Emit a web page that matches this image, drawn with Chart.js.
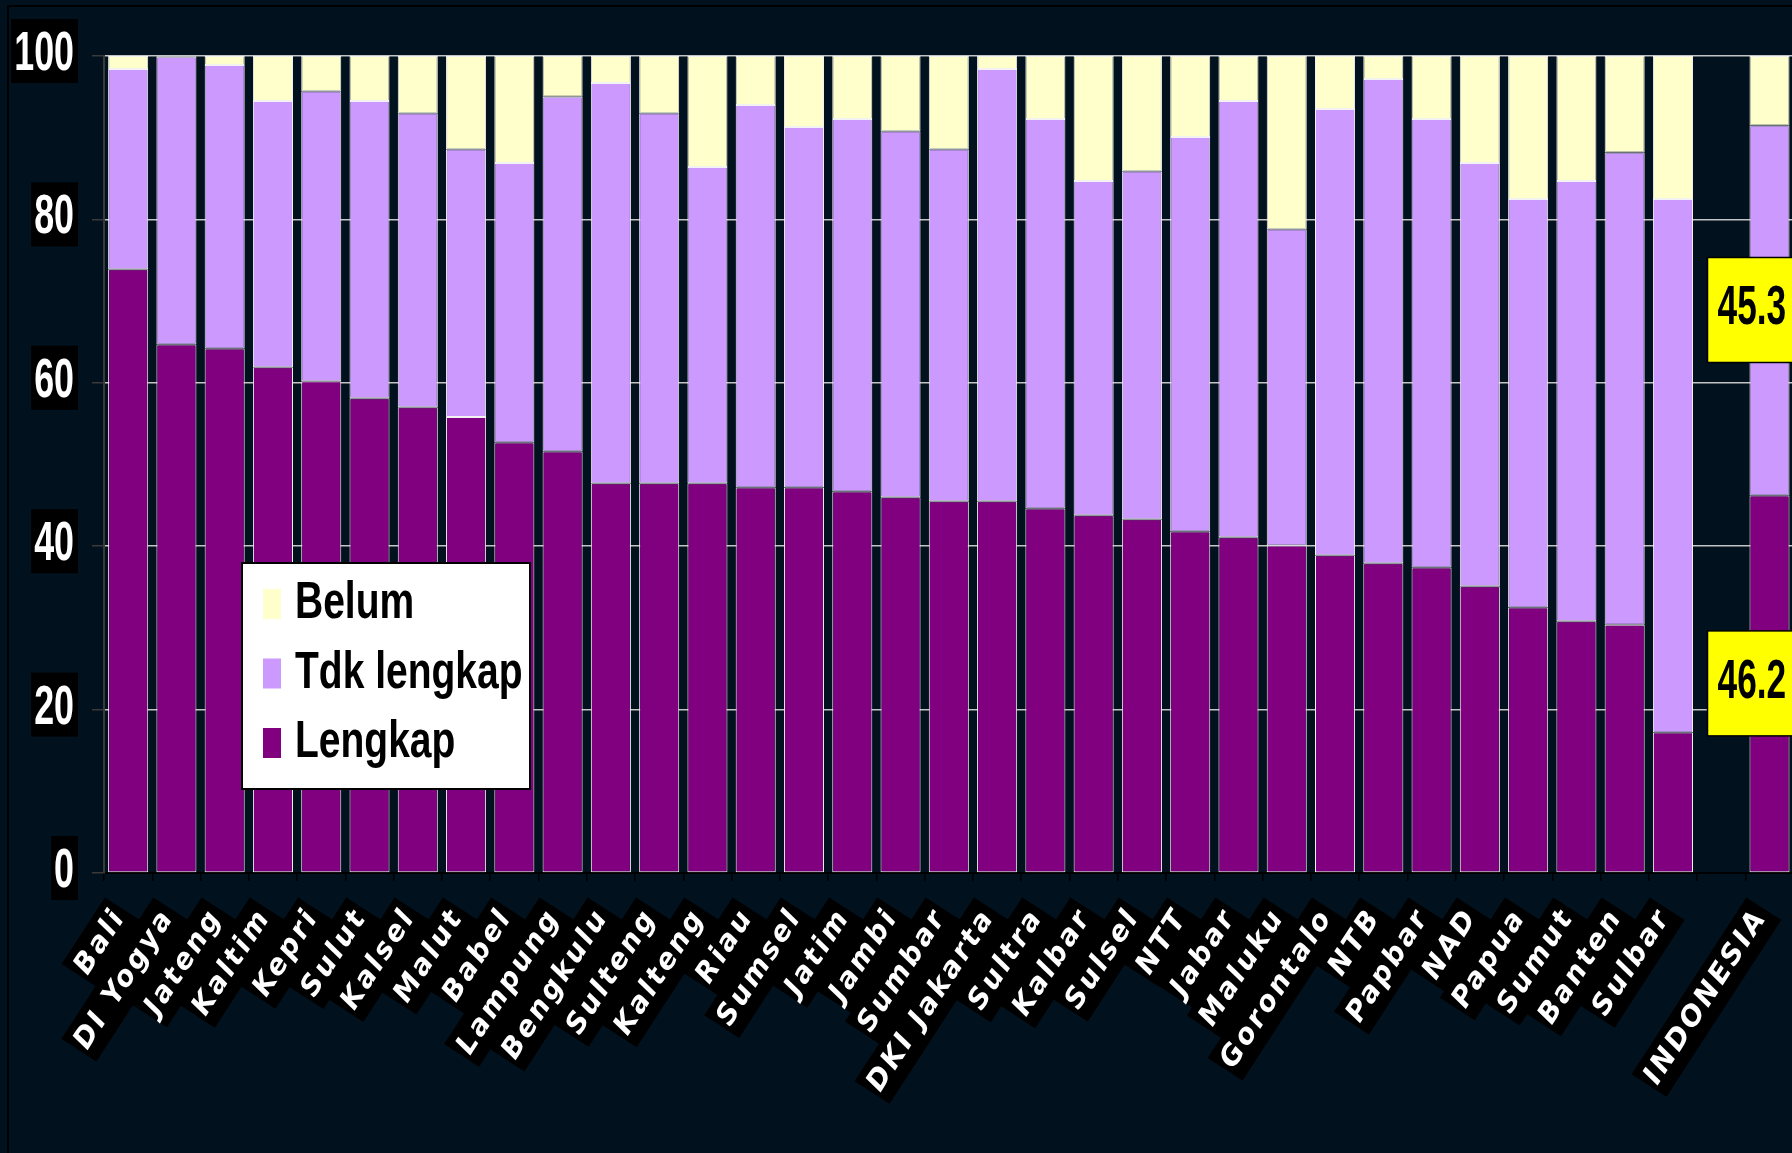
<!DOCTYPE html>
<html>
<head>
<meta charset="utf-8">
<title>Kelengkapan per provinsi</title>
<script src="https://cdn.jsdelivr.net/npm/chart.js@4.4.1/dist/chart.umd.min.js"></script>
<style>
  html, body { margin: 0; padding: 0; background: #01111d; overflow: hidden; }
  #wrap { width: 1820px; height: 1153px; }
</style>
</head>
<body>
<div id="wrap"><canvas id="chart" width="1820" height="1153"></canvas></div>
<script>
// ===== DATA =====
const provinces = [
    'Bali', 'DI Yogya', 'Jateng', 'Kaltim', 'Kepri', 'Sulut', 'Kalsel', 'Malut', 'Babel',
    'Lampung', 'Bengkulu', 'Sulteng', 'Kalteng', 'Riau', 'Sumsel', 'Jatim', 'Jambi',
    'Sumbar', 'DKI Jakarta', 'Sultra', 'Kalbar', 'Sulsel', 'NTT', 'Jabar', 'Maluku',
    'Gorontalo', 'NTB', 'Papbar', 'NAD', 'Papua', 'Sumut', 'Banten', 'Sulbar', '', 'INDONESIA'
];
const lengkap = [
    73.9, 64.7, 64.2, 61.9, 60.2, 58.1, 57.0, 55.8, 52.7,
    51.6, 47.7, 47.7, 47.7, 47.2, 47.2, 46.7, 46.0,
    45.5, 45.5, 44.6, 43.8, 43.3, 41.8, 41.1, 40.1,
    38.9, 37.9, 37.4, 35.1, 32.5, 30.8, 30.4, 17.2, null, 46.2
];
const tdkLengkap = [
    24.5, 35.2, 34.7, 32.6, 35.5, 36.4, 36.0, 32.8, 34.2,
    43.4, 49.0, 45.3, 38.7, 46.8, 44.1, 45.6, 44.8,
    43.1, 52.9, 47.7, 40.9, 42.6, 48.3, 53.4, 38.7,
    54.6, 59.3, 54.9, 51.8, 50.0, 53.9, 57.8, 65.3, null, 45.3
];
const belum = [
    1.6, 0.1, 1.1, 5.5, 4.3, 5.5, 7.0, 11.4, 13.1,
    5.0, 3.3, 7.0, 13.6, 6.0, 8.7, 7.7, 9.2,
    11.4, 1.6, 7.7, 15.3, 14.1, 9.9, 5.5, 21.2,
    6.5, 2.8, 7.7, 13.1, 17.5, 15.3, 11.8, 17.5, null, 8.5
];
const yMin = 0;
const yMax = 100;
const yStep = 20;

// only the national bar gets value boxes, and only these two series
const labelledCategories = ['INDONESIA'];
const labelledSeries = ['Lengkap', 'Tdk lengkap'];

const BG = '#01111d';
const SANS = '"Liberation Sans", Arial, sans-serif';

// draw text squeezed horizontally (narrow face look)
function narrowText(ctx, text, x, y, squeeze, align) {
    ctx.save();
    ctx.translate(x, y);
    ctx.scale(squeeze, 1);
    ctx.textAlign = align;
    ctx.fillText(text, 0, 0);
    ctx.restore();
}

// ===== PLUGINS =====
const background = {
    id: 'background',
    beforeLayout(chart) {
        // wide tracking for the slanted category labels
        chart.ctx.letterSpacing = '3px';
    },
    beforeDraw(chart) {
        const ctx = chart.ctx;
        ctx.letterSpacing = '3px';
        ctx.save();
        ctx.fillStyle = BG;
        ctx.fillRect(0, 0, chart.width, chart.height);
        ctx.strokeStyle = '#000';
        ctx.lineWidth = 2;
        ctx.strokeRect(8, 6, chart.width, chart.height);
        ctx.restore();
    }
};

// y tick labels on black tabs
const yTickLabels = {
    id: 'yTickLabels',
    afterDraw(chart) {
        const scale = chart.scales.y;
        const ctx = chart.ctx;
        const squeeze = 0.64;
        const right = scale.right - 26;
        ctx.save();
        ctx.letterSpacing = '0px';
        ctx.font = 'bold 56px ' + SANS;
        ctx.textBaseline = 'alphabetic';
        scale.ticks.forEach(t => {
            const y = scale.getPixelForValue(t.value);
            const label = String(t.label);
            const w = ctx.measureText(label).width * squeeze;
            ctx.fillStyle = '#000';
            ctx.fillRect(right - w - 7, y - 37, w + 7, 64);
            ctx.fillStyle = '#fff';
            narrowText(ctx, label, right - 4, y + 14, squeeze, 'right');
        });
        ctx.restore();
    }
};

// boxed legend sitting inside the plot, top series first
const boxLegend = {
    id: 'boxLegend',
    afterDraw(chart) {
        const ctx = chart.ctx;
        const x = 242, y = 563, w = 288, h = 226;
        ctx.save();
        ctx.letterSpacing = '0px';
        ctx.fillStyle = '#ffffff';
        ctx.fillRect(x, y, w, h);
        ctx.strokeStyle = '#000';
        ctx.lineWidth = 2;
        ctx.strokeRect(x, y, w, h);
        ctx.font = 'bold 52px ' + SANS;
        ctx.textBaseline = 'alphabetic';
        chart.data.datasets.slice().reverse().forEach((ds, i) => {
            const base = y + 55 + i * 69.5;
            ctx.fillStyle = ds.backgroundColor;
            ctx.fillRect(x + 21, base - 29, 18, 30);
            ctx.fillStyle = '#000';
            narrowText(ctx, ds.label, x + 53, base, 0.75, 'left');
        });
        ctx.restore();
    }
};

// yellow value boxes centred on the segments
const valueBoxes = {
    id: 'valueBoxes',
    afterDatasetsDraw(chart) {
        const ctx = chart.ctx;
        ctx.save();
        ctx.letterSpacing = '0px';
        ctx.font = 'bold 56px ' + SANS;
        ctx.textBaseline = 'alphabetic';
        chart.data.datasets.forEach((ds, di) => {
            if (!labelledSeries.includes(ds.label)) return;
            const meta = chart.getDatasetMeta(di);
            labelledCategories.forEach(cat => {
                const idx = chart.data.labels.indexOf(cat);
                const bar = meta.data[idx];
                if (!bar) return;
                const cy = (bar.y + bar.base) / 2;
                const left = bar.x - 62;
                ctx.fillStyle = '#ffff00';
                ctx.fillRect(left, cy - 53, 130, 105);
                ctx.strokeStyle = '#000';
                ctx.lineWidth = 1.5;
                ctx.strokeRect(left, cy - 53, 130, 105);
                ctx.fillStyle = '#000';
                narrowText(ctx, ds.data[idx].toFixed(1), left + 10, cy + 14, 0.63, 'left');
            });
        });
        ctx.restore();
    }
};

// ===== CHART =====
function createChart() {
    const ctx = document.getElementById('chart').getContext('2d');
    const seg = {
        borderColor: '#f2f2f2',
        borderWidth: 1,
        borderSkipped: false,
        barPercentage: 0.83,
        categoryPercentage: 1.0
    };

    return new Chart(ctx, {
        type: 'bar',
        data: {
            labels: provinces,
            datasets: [
                { label: 'Lengkap', data: lengkap, backgroundColor: '#800080', ...seg },
                { label: 'Tdk lengkap', data: tdkLengkap, backgroundColor: '#cc99ff', ...seg },
                { label: 'Belum', data: belum, backgroundColor: '#ffffcc', ...seg }
            ]
        },
        options: {
            responsive: false,
            animation: false,
            layout: { padding: { left: 0, right: 22, top: 56, bottom: 0 } },
            plugins: {
                legend: { display: false },
                tooltip: { enabled: false }
            },
            scales: {
                x: {
                    stacked: true,
                    afterFit(scale) { scale.height = 280; },
                    grid: {
                        drawOnChartArea: false,
                        drawTicks: true,
                        tickLength: 8,
                        tickColor: '#000',
                        lineWidth: 1.5
                    },
                    border: { display: true, color: '#000', width: 2 },
                    ticks: {
                        autoSkip: false,
                        minRotation: 57,
                        maxRotation: 57,
                        padding: 22,
                        labelOffset: -22,
                        color: '#ffffff',
                        font: { family: 'DejaVu Sans', size: 28, weight: 'bold', style: 'italic' },
                        showLabelBackdrop: (c) => provinces[c.index] !== '',
                        backdropColor: '#000000',
                        backdropPadding: 4
                    }
                },
                y: {
                    stacked: true,
                    min: yMin,
                    max: yMax,
                    afterFit(scale) { scale.width = 104; },
                    grid: {
                        color: '#c4c4c4',
                        lineWidth: 1.5,
                        tickLength: 12,
                        tickColor: '#3a3a3a'
                    },
                    border: { display: true, color: '#3a3a3a', width: 2 },
                    ticks: {
                        stepSize: yStep,
                        display: false
                    }
                }
            }
        },
        plugins: [background, valueBoxes, yTickLabels, boxLegend]
    });
}

createChart();
</script>
</body>
</html>
